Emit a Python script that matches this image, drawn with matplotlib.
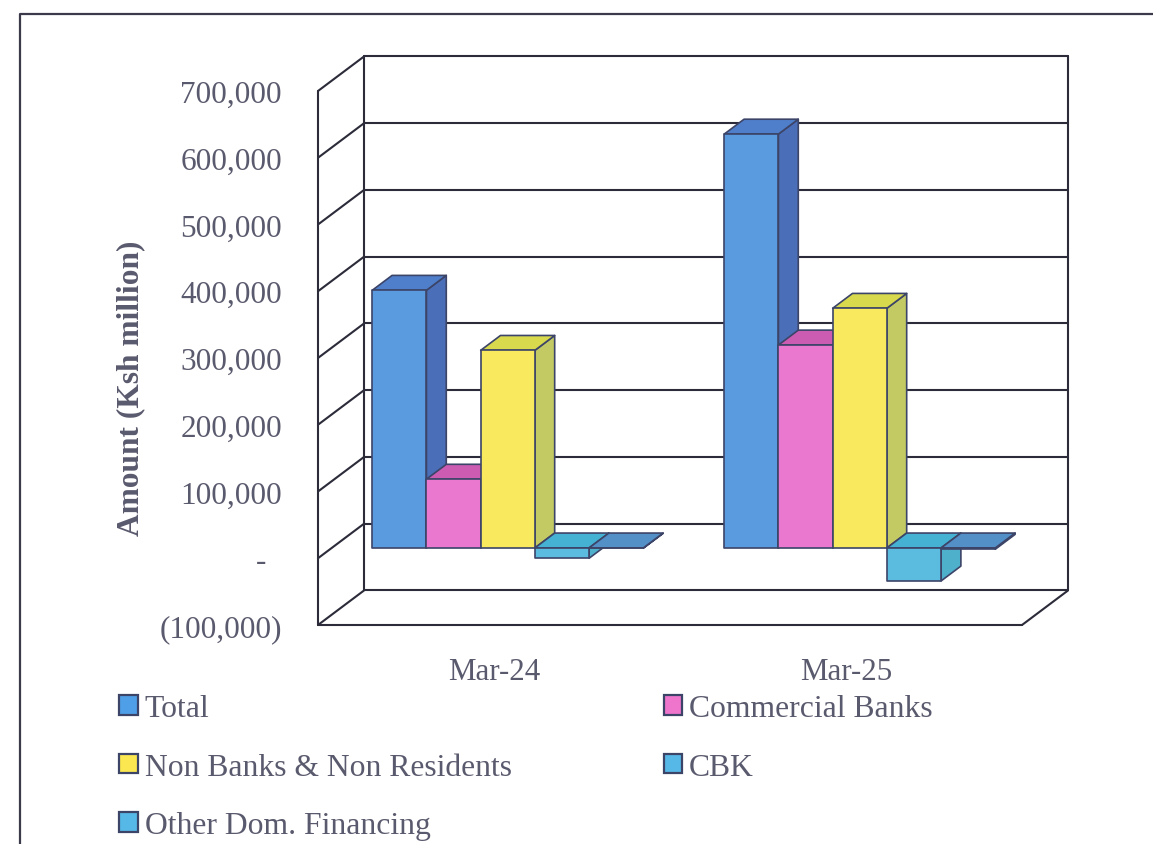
import matplotlib
matplotlib.use('Agg')
import matplotlib.pyplot as plt
from matplotlib.lines import Line2D
from matplotlib.patches import Patch

plt.rcParams['font.family'] = ['Liberation Serif', 'DejaVu Serif']

categories = ['Mar-24', 'Mar-25']
series_names = ['Total', 'Commercial Banks', 'Non Banks & Non Residents', 'CBK', 'Other Dom. Financing']
total = [386000, 620000]
commercial_banks = [103000, 304000]
non_banks = [296000, 359000]
cbk = [-15500, -49500]
other_dom = [-500, -2000]
y_ticks = [-100000, 0, 100000, 200000, 300000, 400000, 500000, 600000, 700000]
y_tick_labels = ['(100,000)', '-  ', '100,000', '200,000', '300,000', '400,000', '500,000', '600,000', '700,000']

# (front, side, top) for each series
colors = [
    ('#5a9be0', '#4a6fb8', '#4f7fcb'),
    ('#ea78cf', '#b4579f', '#cc5cb2'),
    ('#f8e95f', '#c3c963', '#d9d94e'),
    ('#5cbce0', '#4fb0cc', '#45b1d3'),
    ('#5a9ad0', '#4f86bd', '#5490c8'),
]
legend_colors = ['#4f9fe8', '#ee74cc', '#fbe850', '#55b8e6', '#55b8e6']
edge = '#3c4468'
line_col = '#2b2b3a'
text_col = '#5a5a6e'

# depth of the fake 3d box, in data units
DX = 46 / 352
DY = 51700
BAR_W = 0.154
D0, D1 = 0.30, 0.73


def pt(x, v, d):
    return x + d * DX, v + d * DY


def poly(ax, points, color):
    xs, ys = zip(*points)
    ax.fill(xs, ys, facecolor=color, edgecolor=edge, linewidth=1.2, joinstyle='round', clip_on=False, zorder=3)


def draw_bar(ax, x, val, cols):
    hi = max(val, 0)
    lo = min(val, 0)
    x2 = x + BAR_W
    poly(ax, [pt(x2, lo, D0), pt(x2, lo, D1), pt(x2, hi, D1), pt(x2, hi, D0)], cols[1])
    poly(ax, [pt(x, hi, D0), pt(x2, hi, D0), pt(x2, hi, D1), pt(x, hi, D1)], cols[2])
    poly(ax, [pt(x, lo, D0), pt(x2, lo, D0), pt(x2, hi, D0), pt(x, hi, D0)], cols[0])


def wall_line(ax, p0, p1):
    ax.plot([p0[0], p1[0]], [p0[1], p1[1]], color=line_col, lw=1.5, clip_on=False, zorder=1,
            solid_capstyle='round')


fig = plt.figure(figsize=(11.53, 8.45), dpi=100)
ax = fig.add_axes([318 / 1153, 219 / 845, 704 / 1153, 534 / 845])
ax.set_xlim(0, 2)
ax.set_ylim(y_ticks[0], y_ticks[-1])

# outer frame, runs off the right and the bottom of the scan
fig.add_artist(Line2D([20 / 1153, 20 / 1153, 1], [0, 830 / 845, 830 / 845], color='#3a3a4a', lw=1.6))

# walls and gridlines
for v in y_ticks:
    wall_line(ax, pt(0, v, 0), pt(0, v, 1))
    wall_line(ax, pt(0, v, 1), pt(2, v, 1))
wall_line(ax, pt(0, y_ticks[0], 0), pt(0, y_ticks[-1], 0))
wall_line(ax, pt(0, y_ticks[0], 1), pt(0, y_ticks[-1], 1))
wall_line(ax, pt(2, y_ticks[0], 1), pt(2, y_ticks[-1], 1))
wall_line(ax, pt(0, y_ticks[0], 0), pt(2, y_ticks[0], 0))
wall_line(ax, pt(2, y_ticks[0], 0), pt(2, y_ticks[0], 1))

all_series = [total, commercial_banks, non_banks, cbk, other_dom]
gap = (1 - len(all_series) * BAR_W) / 2
for i in range(len(categories)):
    for j, vals in enumerate(all_series):
        draw_bar(ax, i + gap + j * BAR_W, vals[i], colors[j])

for s in ax.spines.values():
    s.set_visible(False)
ax.set_yticks(y_ticks)
ax.set_yticklabels(y_tick_labels)
ax.set_xticks([i + 0.5 for i in range(len(categories))])
ax.set_xticklabels(categories)
ax.tick_params(axis='y', length=0, pad=26, labelsize=22.5, labelcolor=text_col)
ax.tick_params(axis='x', length=0, pad=23, labelsize=22.3, labelcolor=text_col)
ax.set_ylabel('Amount (Ksh million)', fontsize=22.6, fontweight='bold', color=text_col)
ax.yaxis.set_label_coords(-173 / 704, 238 / 534)

# legend fills by column, so the order is not the series order
order = [0, 2, 4, 1, 3]
handles = [Patch(facecolor=legend_colors[k], edgecolor=edge, linewidth=1.6, label=series_names[k]) for k in order]
leg = fig.legend(handles=handles, ncols=2, loc='upper left', bbox_to_anchor=(113 / 1153, 1 - 689 / 845),
                 frameon=False, fontsize=22.8, labelcolor=text_col, handlelength=0.58, handleheight=0.58,
                 handletextpad=0.22, labelspacing=0.93, columnspacing=4.8, borderpad=0.2, borderaxespad=0)

fig.savefig('out.png', dpi=100)
